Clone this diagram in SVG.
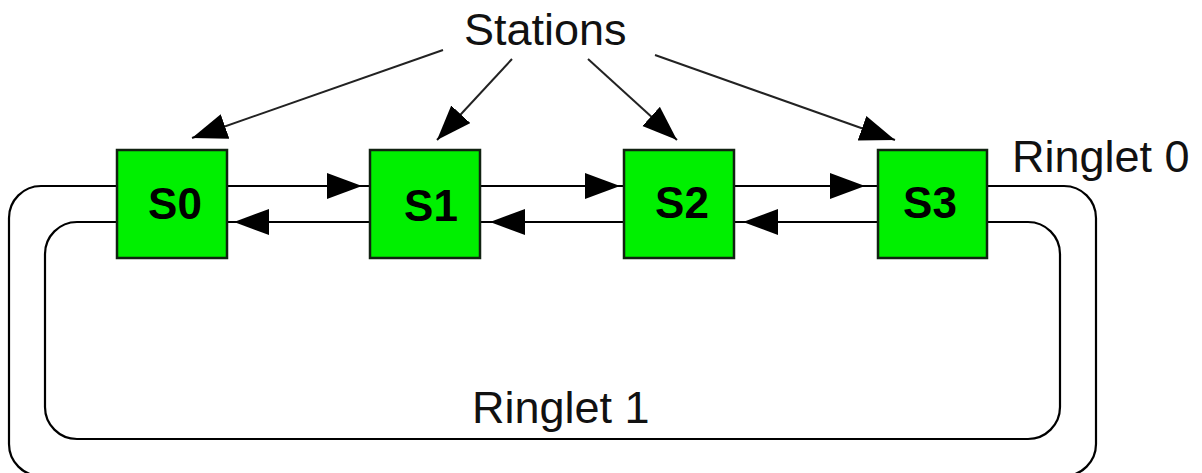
<svg xmlns="http://www.w3.org/2000/svg" width="1202" height="473" viewBox="0 0 1202 473">
  <style>
    .station rect { fill: #00f000; stroke: #112211; stroke-width: 2.5; }
    .station text { font-family: "Liberation Sans", Arial, sans-serif; font-weight: bold; font-size: 44px; fill: #000; text-anchor: middle; }
    .label { font-family: "Liberation Sans", Arial, sans-serif; font-size: 45px; fill: #111; }
    .wire { fill: none; stroke: #000; stroke-width: 2.2; }
    .ring { fill: none; stroke: #000; stroke-width: 2.2; }
    .pointer { fill: none; stroke: #222; stroke-width: 2; }
  </style>
  <defs>
    <marker id="head" markerUnits="userSpaceOnUse" markerWidth="36" markerHeight="28" refX="35" refY="13" orient="auto">
      <path d="M0,0 L35,13 L0,26 Z" fill="#000"/>
    </marker>
  </defs>

  <rect width="1202" height="473" fill="#fff"/>

  <!-- ringlets and links between stations -->
  <g id="connectors">
    <!-- Ringlet 0: outer loop -->
    <path class="ring" d="M117,186 H41 A32,32 0 0 0 9,218 V444 A32,32 0 0 0 41,476 H1064 A32,32 0 0 0 1096,444 V218 A32,32 0 0 0 1064,186 H987"/>
    <!-- Ringlet 1: inner loop -->
    <path class="ring" d="M117,222 H77 A32,32 0 0 0 45,254 V407 A32,32 0 0 0 77,439 H1028 A32,32 0 0 0 1060,407 V254 A32,32 0 0 0 1028,222 H987"/>

    <!-- forward direction (upper) -->
    <path class="wire" d="M228,186 H362 H370" marker-mid="url(#head)"/>
    <path class="wire" d="M481,186 H620 H624" marker-mid="url(#head)"/>
    <path class="wire" d="M735,186 H865 H878" marker-mid="url(#head)"/>
    <!-- reverse direction (lower) -->
    <path class="wire" d="M370,222 H234 H228" marker-mid="url(#head)"/>
    <path class="wire" d="M624,222 H490 H481" marker-mid="url(#head)"/>
    <path class="wire" d="M878,222 H743 H735" marker-mid="url(#head)"/>

    <!-- pointers from the "Stations" caption -->
    <path class="pointer" d="M443,50 L192,138" marker-end="url(#head)"/>
    <path class="pointer" d="M512,59 L437,140" marker-end="url(#head)"/>
    <path class="pointer" d="M588,59 L677,140" marker-end="url(#head)"/>
    <path class="pointer" d="M655,55 L895,140" marker-end="url(#head)"/>
  </g>

  <g id="s0" class="station">
    <rect x="117" y="150" width="110" height="108"/>
    <text x="175" y="219">S0</text>
  </g>
  <g id="s1" class="station">
    <rect x="370" y="150" width="110" height="108"/>
    <text x="431" y="221">S1</text>
  </g>
  <g id="s2" class="station">
    <rect x="624" y="150" width="110" height="108"/>
    <text x="682" y="218">S2</text>
  </g>
  <g id="s3" class="station">
    <rect x="878" y="150" width="109" height="108"/>
    <text x="930" y="218">S3</text>
  </g>

  <g id="captions">
    <text class="label" x="464" y="45" font-size="46">Stations</text>
    <text class="label" x="1012" y="172">Ringlet 0</text>
    <text class="label" x="472" y="423">Ringlet 1</text>
  </g>
</svg>
